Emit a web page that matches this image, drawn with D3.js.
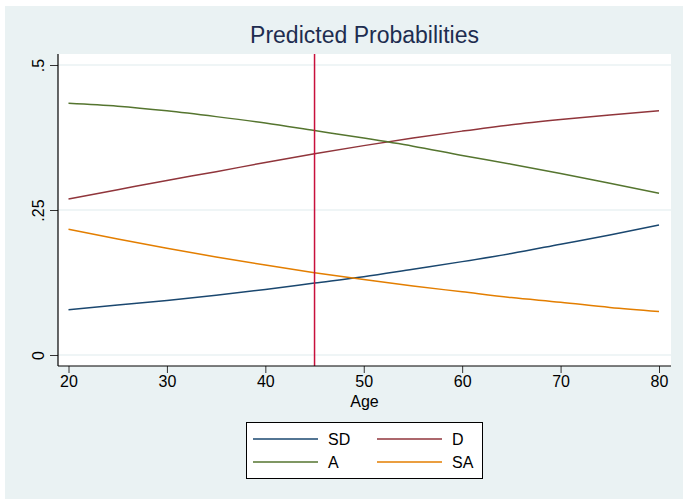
<!DOCTYPE html>
<html>
<head>
<meta charset="utf-8">
<script src="https://cdn.jsdelivr.net/npm/d3@7"></script>
<style>
	body { margin: 0; background: #fff; }
	text { font-family: "Liberation Sans", Arial, sans-serif; }
</style>
</head>
<body>
<script>
//chart values
var ages = [20, 25, 30, 35, 40, 45, 50, 55, 60, 65, 70, 75, 80];
var probSD = [0.078, 0.086, 0.094, 0.103, 0.113, 0.124, 0.135, 0.148, 0.161, 0.175, 0.191, 0.207, 0.224];
var probD = [0.269, 0.285, 0.301, 0.316, 0.332, 0.347, 0.361, 0.374, 0.386, 0.397, 0.406, 0.414, 0.421];
var probA = [0.434, 0.429, 0.421, 0.411, 0.400, 0.387, 0.374, 0.360, 0.344, 0.329, 0.313, 0.296, 0.279];
var probSA = [0.217, 0.200, 0.184, 0.169, 0.155, 0.142, 0.130, 0.119, 0.109, 0.099, 0.091, 0.082, 0.075];
var seriesNames = ["SD", "D", "A", "SA"];
var xTicks = [20, 30, 40, 50, 60, 70, 80];
var yTicks = [0, 0.25, 0.5];
var yTickLabels = ["0", ".25", ".5"];
var markerAge = 45;

window.onload = setChart();

function setChart(){

	//dimensions
	var width = 683,
		height = 499;

	var colors = {SD: "#1a476f", D: "#90353b", A: "#55752f", SA: "#e37e00"};

	var svg = d3.select("body")
		.append("svg")
		.attr("width", width)
		.attr("height", height);

	//outer graph region
	svg.append("rect")
		.attr("x", 5)
		.attr("y", 6)
		.attr("width", width - 5)
		.attr("height", height - 6)
		.attr("fill", "#eaf2f3");

	//plot region bounds
	var left = 58, right = 671, top = 54, bottom = 366;

	var x = d3.scaleLinear()
		.domain([20, 80])
		.range([68.5, 659]);

	var y = d3.scaleLinear()
		.domain([0, 0.5])
		.range([355, 65]);

	svg.append("rect")
		.attr("x", left)
		.attr("y", top)
		.attr("width", right - left)
		.attr("height", bottom - top)
		.attr("fill", "#fff");

	//grid lines
	svg.selectAll(".grid")
		.data(yTicks)
		.enter()
		.append("line")
		.attr("class", "grid")
		.attr("x1", left)
		.attr("x2", right)
		.attr("y1", function(d){ return y(d); })
		.attr("y2", function(d){ return y(d); })
		.attr("stroke", "#eaf2f3")
		.attr("stroke-width", 1.5);

	//series
	var series = [
		{name: "SD", values: probSD},
		{name: "D", values: probD},
		{name: "A", values: probA},
		{name: "SA", values: probSA}
	];

	var line = d3.line()
		.x(function(d, i){ return x(ages[i]); })
		.y(function(d){ return y(d); })
		.curve(d3.curveMonotoneX);

	svg.selectAll(".series")
		.data(series)
		.enter()
		.append("path")
		.attr("class", "series")
		.attr("d", function(d){ return line(d.values); })
		.attr("fill", "none")
		.attr("stroke", function(d){ return colors[d.name]; })
		.attr("stroke-width", 1.5);

	//reference line at age 45
	svg.append("line")
		.attr("x1", x(markerAge))
		.attr("x2", x(markerAge))
		.attr("y1", top)
		.attr("y2", bottom)
		.attr("stroke", "#c8103c")
		.attr("stroke-width", 1.5);

	//x axis
	var xAxis = svg.append("g")
		.attr("transform", "translate(0," + bottom + ")")
		.call(d3.axisBottom(x).tickValues(xTicks).tickSize(7).tickPadding(3));

	xAxis.select(".domain").remove();
	xAxis.append("line")
		.attr("x1", left)
		.attr("x2", right)
		.attr("stroke", "#000")
		.attr("stroke-width", 1.2);
	xAxis.selectAll(".tick line").attr("stroke", "#333");
	xAxis.selectAll(".tick text")
		.attr("font-size", 16)
		.attr("fill", "#000");

	//y axis
	var yAxis = svg.append("g")
		.attr("transform", "translate(" + left + ",0)")
		.call(d3.axisLeft(y).tickValues(yTicks).tickSize(8)
			.tickFormat(function(d, i){ return yTickLabels[i]; }));

	yAxis.select(".domain").remove();
	yAxis.append("line")
		.attr("y1", top)
		.attr("y2", bottom)
		.attr("stroke", "#000")
		.attr("stroke-width", 1.2);
	yAxis.selectAll(".tick line").attr("stroke", "#333");
	yAxis.selectAll(".tick text")
		.attr("font-size", 16)
		.attr("fill", "#000")
		.attr("x", null)
		.attr("dy", null)
		.attr("text-anchor", "middle")
		.attr("transform", "translate(-14,0) rotate(-90)")
		.attr("y", 0);

	//titles
	svg.append("text")
		.attr("x", (left + right) / 2)
		.attr("y", 43)
		.attr("text-anchor", "middle")
		.attr("font-size", 23)
		.attr("fill", "#1e2d50")
		.text("Predicted Probabilities");

	svg.append("text")
		.attr("x", (left + right) / 2)
		.attr("y", 407)
		.attr("text-anchor", "middle")
		.attr("font-size", 16)
		.attr("fill", "#000")
		.text("Age");

	//legend
	var legend = svg.append("g");

	legend.append("rect")
		.attr("x", 246.5)
		.attr("y", 422.5)
		.attr("width", 236)
		.attr("height", 56)
		.attr("fill", "#fff")
		.attr("stroke", "#000")
		.attr("stroke-width", 1);

	var items = legend.selectAll(".item")
		.data(seriesNames)
		.enter()
		.append("g")
		.attr("class", "item")
		.attr("transform", function(d, i){
			return "translate(" + (253 + (i % 2) * 124) + "," + (439 + Math.floor(i / 2) * 23) + ")";
		});

	items.append("line")
		.attr("x1", 0)
		.attr("x2", 65)
		.attr("stroke", function(d){ return colors[d]; })
		.attr("stroke-width", 1.5);

	items.append("text")
		.attr("x", 75)
		.attr("dy", "0.36em")
		.attr("font-size", 16)
		.attr("fill", "#000")
		.text(function(d){ return d; });
};
</script>
</body>
</html>
